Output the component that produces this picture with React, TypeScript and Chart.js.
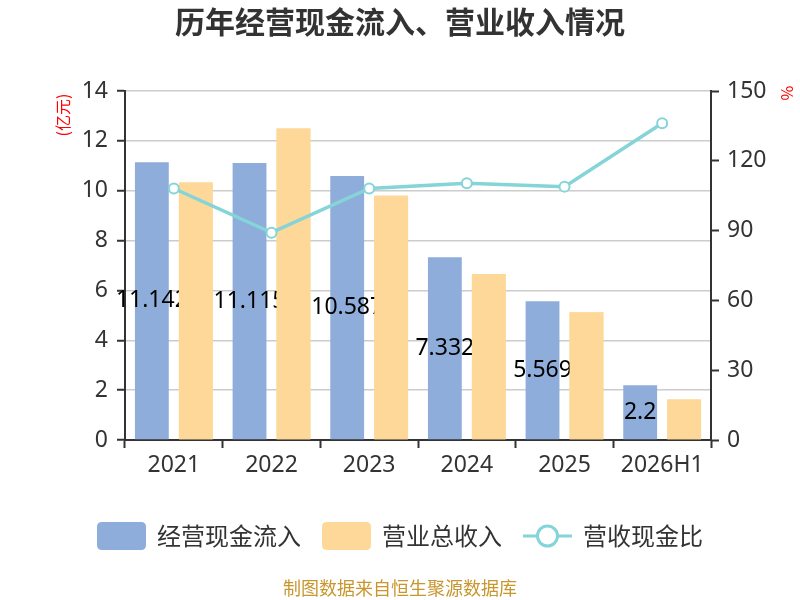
import React, { useEffect, useRef } from 'react';
import Chart from 'chart.js/auto';

const FONT = '"Noto Sans CJK SC", "Noto Sans", sans-serif';
const NUM_FONT = '"Noto Sans", "Noto Sans CJK SC", sans-serif';

const categories = ['2021', '2022', '2023', '2024', '2025', '2026H1'];
const cashInflow = [11.142, 11.115, 10.587, 7.332, 5.569, 2.2];
const revenue = [10.33, 12.5, 9.8, 6.66, 5.12, 1.62];
const cashRatio = [108.1, 89.1, 108.1, 110.4, 108.9, 136.1];

const seriesNames = ['经营现金流入', '营业总收入', '营收现金比'];
const leftAxis = { min: 0, max: 14, step: 2 };
const rightAxis = { min: 0, max: 150, step: 30 };

const titleText = '历年经营现金流入、营业收入情况';
const leftUnit = '(亿元)';
const rightUnit = '%';
const sourceText = '制图数据来自恒生聚源数据库';

const BLUE = '#8eaddb';
const ORANGE = '#fed899';
const TEAL = '#84d4d8';

const roundRect = (ctx: CanvasRenderingContext2D, x: number, y: number, w: number, h: number, r: number) => {
  ctx.beginPath();
  ctx.moveTo(x + r, y);
  ctx.lineTo(x + w - r, y);
  ctx.quadraticCurveTo(x + w, y, x + w, y + r);
  ctx.lineTo(x + w, y + h - r);
  ctx.quadraticCurveTo(x + w, y + h, x + w - r, y + h);
  ctx.lineTo(x + r, y + h);
  ctx.quadraticCurveTo(x, y + h, x, y + h - r);
  ctx.lineTo(x, y + r);
  ctx.quadraticCurveTo(x, y, x + r, y);
  ctx.closePath();
};

const decorPlugin = {
  id: 'decor',
  afterDatasetDraw(chart: any, args: any) {
    if (args.index !== 0) return;
    const ctx: CanvasRenderingContext2D = chart.ctx;
    const meta = chart.getDatasetMeta(0);
    ctx.save();
    ctx.font = `23px ${NUM_FONT}`;
    ctx.fillStyle = '#000';
    ctx.textAlign = 'center';
    ctx.textBaseline = 'middle';
    meta.data.forEach((bar: any, i: number) => {
      const { x, y, base } = bar.getProps(['x', 'y', 'base'], true);
      ctx.fillText(String(cashInflow[i]), x, (y + base) / 2);
    });
    ctx.restore();
    // the revenue bars sit on top of the labels in the original
    chart.getDatasetMeta(1).controller.draw();
  },
  afterDraw(chart: any) {
    const ctx: CanvasRenderingContext2D = chart.ctx;
    ctx.save();

    // title
    ctx.font = `bold 30px ${FONT}`;
    ctx.fillStyle = '#333';
    ctx.textAlign = 'center';
    ctx.textBaseline = 'middle';
    ctx.fillText(titleText, 400, 22);

    // unit labels
    ctx.font = `16px ${FONT}`;
    ctx.fillStyle = '#ff0000';
    ctx.save();
    ctx.translate(63, 115);
    ctx.rotate(-Math.PI / 2);
    ctx.fillText(leftUnit, 0, 0);
    ctx.restore();
    ctx.save();
    ctx.translate(787, 93);
    ctx.rotate(Math.PI / 2);
    ctx.fillText(rightUnit, 0, 0);
    ctx.restore();

    // legend
    ctx.font = `24px ${FONT}`;
    const boxW = 49;
    const boxH = 28;
    const gap = 11;
    const itemGap = 21;
    const widths = chart.data.datasets.map((ds: any) => boxW + gap + ctx.measureText(ds.label).width);
    const total = widths.reduce((a: number, b: number) => a + b, 0) + itemGap * (widths.length - 1);
    let lx = 400 - total / 2;
    const ly = 536;
    chart.data.datasets.forEach((ds: any, i: number) => {
      if (ds.type === 'line') {
        ctx.strokeStyle = ds.borderColor;
        ctx.lineWidth = 3;
        ctx.beginPath();
        ctx.moveTo(lx, ly);
        ctx.lineTo(lx + boxW, ly);
        ctx.stroke();
        ctx.beginPath();
        ctx.arc(lx + boxW / 2, ly, 10, 0, Math.PI * 2);
        ctx.fillStyle = '#fff';
        ctx.fill();
        ctx.stroke();
      } else {
        ctx.fillStyle = ds.backgroundColor;
        roundRect(ctx, lx, ly - boxH / 2, boxW, boxH, 5);
        ctx.fill();
      }
      ctx.fillStyle = '#333';
      ctx.textAlign = 'left';
      ctx.fillText(ds.label, lx + boxW + gap, ly);
      lx += widths[i] + itemGap;
    });

    // source
    ctx.font = `18px ${FONT}`;
    ctx.fillStyle = '#c8962e';
    ctx.textAlign = 'center';
    ctx.fillText(sourceText, 400, 588);

    ctx.restore();
  },
};

const App: React.FC = () => {
  const canvasRef = useRef<HTMLCanvasElement>(null);
  const chartRef = useRef<Chart | null>(null);

  useEffect(() => {
    document.body.style.margin = '0';
    if (!canvasRef.current) return;
    if (chartRef.current) chartRef.current.destroy();

    const tickFont = { family: NUM_FONT, size: 23 };

    chartRef.current = new Chart(canvasRef.current, {
      type: 'bar',
      data: {
        labels: categories,
        datasets: [
          {
            type: 'bar',
            label: seriesNames[0],
            data: cashInflow,
            backgroundColor: BLUE,
            yAxisID: 'y',
            categoryPercentage: 0.9,
            barPercentage: 0.77,
            order: 0,
          },
          {
            type: 'bar',
            label: seriesNames[1],
            data: revenue,
            backgroundColor: ORANGE,
            yAxisID: 'y',
            categoryPercentage: 0.9,
            barPercentage: 0.77,
            order: 0,
          },
          {
            type: 'line',
            label: seriesNames[2],
            data: cashRatio,
            yAxisID: 'y1',
            borderColor: TEAL,
            borderWidth: 3.5,
            pointRadius: 5,
            pointBorderWidth: 2,
            pointBackgroundColor: '#fff',
            pointBorderColor: TEAL,
            tension: 0,
            order: -1,
          },
        ],
      } as any,
      options: {
        animation: false,
        responsive: false,
        layout: { padding: { top: 91, left: 0, right: 0, bottom: 0 } },
        plugins: {
          legend: { display: false },
          title: { display: false },
          tooltip: { enabled: false },
        },
        scales: {
          x: {
            grid: { drawOnChartArea: false, drawTicks: true, tickLength: 8, tickColor: '#333', tickWidth: 2 },
            border: { color: '#333', width: 2 },
            ticks: { color: '#333', font: tickFont, padding: 4 },
            afterFit: (s: any) => { s.height = 160; },
          },
          y: {
            position: 'left',
            min: leftAxis.min,
            max: leftAxis.max,
            ticks: { stepSize: leftAxis.step, color: '#333', font: tickFont, padding: 9 },
            grid: { color: '#cccccc', lineWidth: 1.5, tickColor: '#333', tickLength: 8, tickWidth: 2 },
            border: { color: '#333', width: 2 },
            afterFit: (s: any) => { s.width = 125; },
          },
          y1: {
            position: 'right',
            min: rightAxis.min,
            max: rightAxis.max,
            ticks: { stepSize: rightAxis.step, color: '#333', font: tickFont, padding: 8 },
            grid: { drawOnChartArea: false, tickColor: '#333', tickLength: 8, tickWidth: 2 },
            border: { color: '#333', width: 2 },
            afterFit: (s: any) => { s.width = 89; },
          },
        },
      } as any,
      plugins: [decorPlugin],
    });

    return () => {
      if (chartRef.current) {
        chartRef.current.destroy();
        chartRef.current = null;
      }
    };
  }, []);

  return (
    <div style={{ width: 800, height: 600 }}>
      <canvas ref={canvasRef} width={800} height={600} />
    </div>
  );
};

export default App;
